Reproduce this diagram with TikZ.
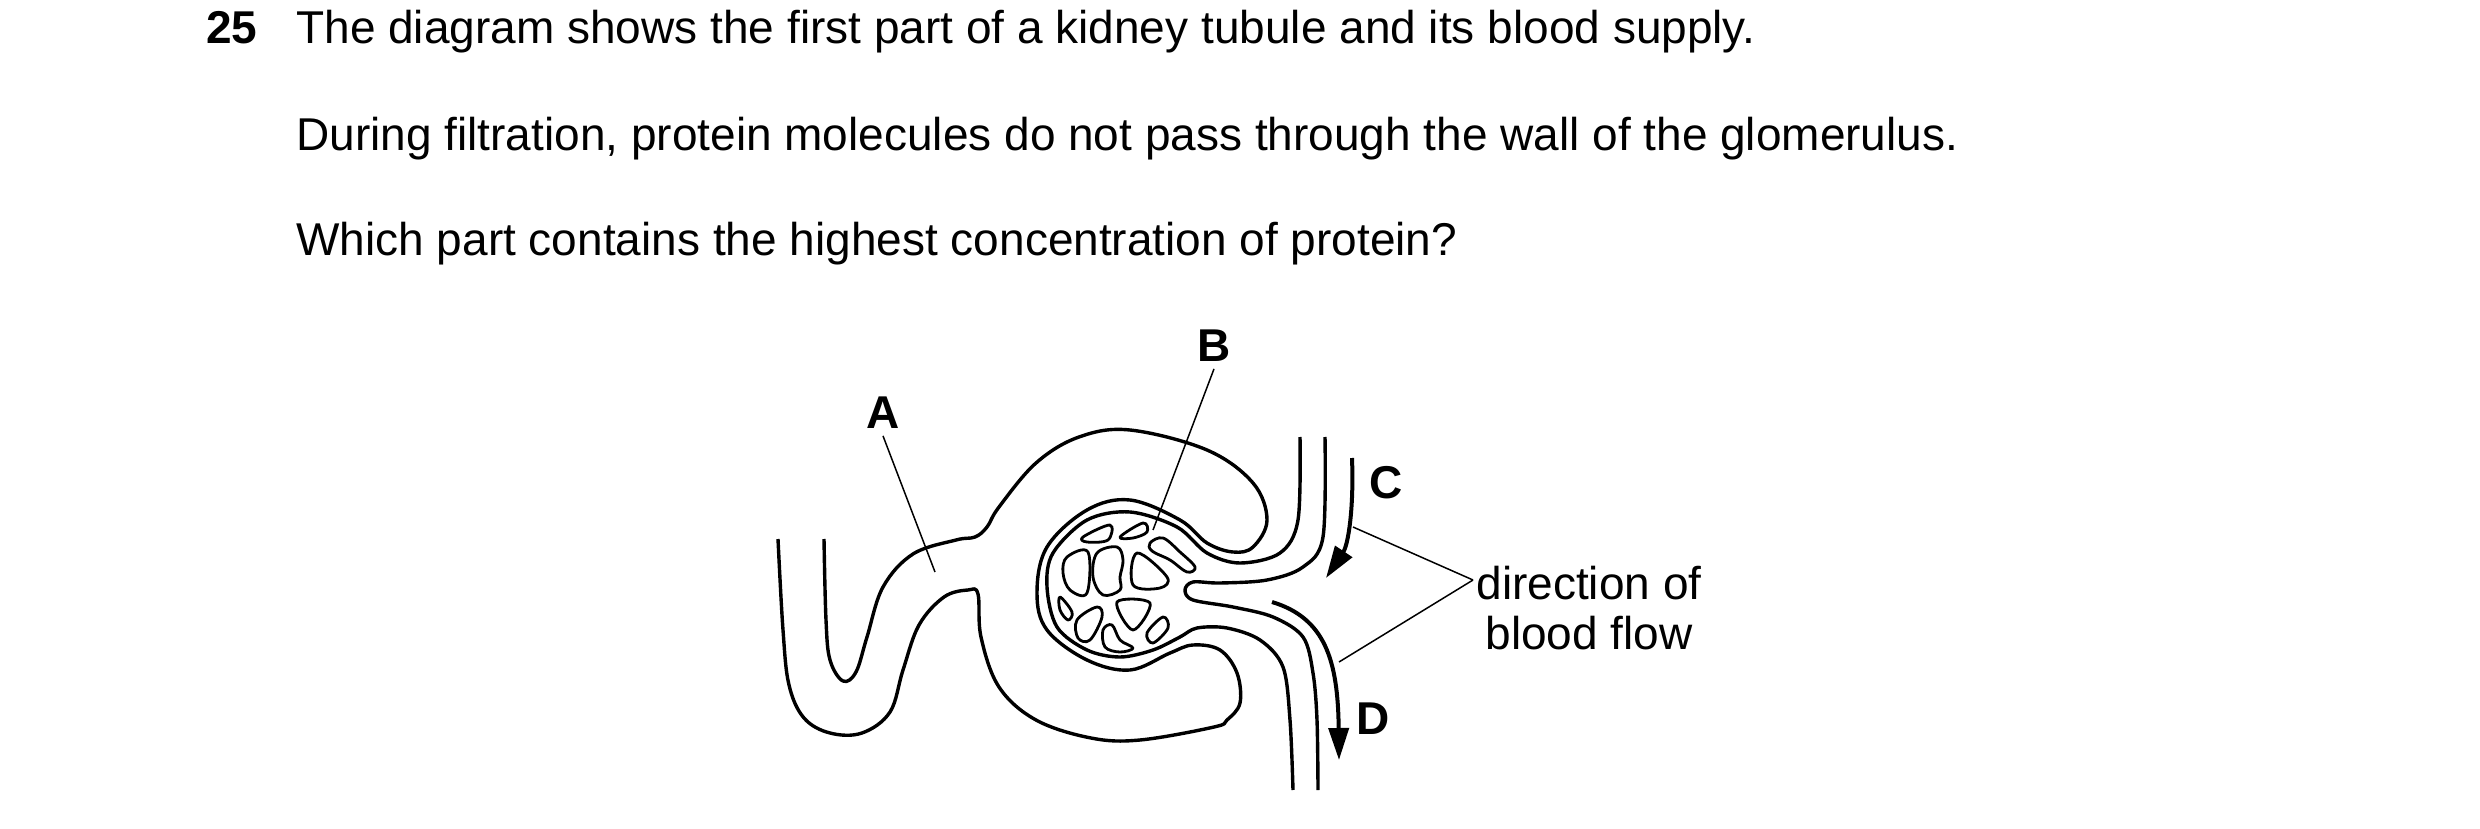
\documentclass[tikz,border=0pt]{standalone}
\usepackage{fontspec}
\setmainfont{Liberation Sans}
\usetikzlibrary{arrows.meta}
\begin{document}
\begin{tikzpicture}[x=0.5pt,y=-0.5pt,
  wall/.style={line width=1.7pt,line join=round},
  ptr/.style={line width=0.75pt},
  flow/.style={line width=2pt,-{Triangle[length=16pt,width=10pt]}},
  lab/.style={font=\fontsize{23}{27}\selectfont\bfseries},
  txt/.style={font=\fontsize{23}{27}\selectfont,anchor=base west,inner sep=0}]
\useasboundingbox (0,0) rectangle (2480,829);
% question text
\node[txt,font=\fontsize{23}{27}\selectfont\bfseries] (num) at (206,44) {25};
\node[txt] (l1) at (296,44) {The diagram shows the first part of a kidney tubule and its blood supply.};
\node[txt] (l2) at (296,150) {During filtration, protein molecules do not pass through the wall of the glomerulus.};
\node[txt] (l3) at (296,256) {Which part contains the highest concentration of protein?};
% tubule + capsule outer wall
\draw[wall] plot[smooth,tension=0.6] coordinates {(824,539) (826,620) (830,660) (843,681) (856,672) (867,637) (883,587) (913,554) (956,540) (975,537) (987,527) (999,507) (1036,463) (1079,437) (1130,430) (1207,450) (1253,483) (1267,520) (1253,547) (1233,552) (1207,543) (1180,520) (1130,500) (1087,510) (1047,547) (1037,593) (1047,630) (1087,660) (1130,670) (1170,653) (1193,645) (1220,650) (1237,673) (1240,703) (1227,720) (1214,727) (1140,740) (1091,738) (1036,720) (999,687) (981,637) (978,594) (968,590) (944,597) (919,625) (903,670) (890,712) (862,733) (830,733) (804,718) (789,685) (783,630) (778,539)};
% afferent wall 1 -> capsule inner -> efferent wall 1
\draw[wall] plot[smooth,tension=0.55] coordinates {(1300,437) (1298,520) (1280,553) (1240,563) (1207,553) (1177,527) (1130,512) (1087,520) (1053,553) (1047,587) (1057,627) (1087,650) (1120,657) (1153,650) (1180,637) (1197,628) (1227,628) (1260,640) (1283,667) (1290,720) (1293,790)};
% afferent wall 2 -> efferent wall 2
\draw[wall] plot[smooth,tension=0.55] coordinates {(1325,437) (1323,537) (1303,567) (1267,580) (1220,583) (1193,582) (1185,590) (1193,600) (1233,607) (1273,617) (1303,637) (1313,673) (1317,720) (1318,790)};
% capillaries
\foreach \b in {
 {(1083,537) (1110,525) (1108,540) (1087,542)},
 {(1120,537) (1143,523) (1147,532) (1133,538)},
 {(1150,543) (1163,538) (1180,552) (1195,567) (1187,572) (1170,560) (1152,551)},
 {(1067,557) (1088,552) (1087,593) (1070,590) (1063,573)},
 {(1097,553) (1117,547) (1123,560) (1120,577) (1120,590) (1103,595) (1093,577)},
 {(1137,553) (1167,577) (1160,588) (1133,585)},
 {(1060,597) (1072,612) (1068,620) (1060,610)},
 {(1077,620) (1097,607) (1102,617) (1090,640) (1078,638)},
 {(1117,602) (1150,603) (1133,630)},
 {(1103,630) (1112,625) (1120,640) (1133,648) (1120,652) (1105,647)},
 {(1147,633) (1163,617) (1168,628) (1153,643)}}
 \draw[wall,line width=1.4pt] plot[smooth cycle,tension=0.6] coordinates \b;
% flow arrows
\coordinate (c0) at (1352,458);
\coordinate (c1) at (1326,578);
\draw[flow] (c0) .. controls (1354,510) and (1348,545) .. (c1);
\coordinate (d0) at (1272,602);
\coordinate (d1) at (1339,760);
\draw[flow] (d0) .. controls (1325,618) and (1338,660) .. (d1);
% labels
\node[lab] (A) at (883,413) {A};
\node[lab] (B) at (1214,346) {B};
\node[lab] (C) at (1386,483) {C};
\node[lab] (D) at (1373,719) {D};
\node[font=\fontsize{23}{27}\selectfont,align=center,inner sep=0] (dir) at (1589,608) {direction of\\[-2pt]blood flow};
\coordinate (pa) at (935,572);
\coordinate (pb) at (1153,530);
\coordinate (pc) at (1353,527);
\coordinate (pd) at (1339,662);
\coordinate (dl) at (1473,580);
\draw[ptr] (A.south) -- (pa);
\draw[ptr] (B.south) -- (pb);
\draw[ptr] (dl) -- (pc);
\draw[ptr] (dl) -- (pd);
\end{tikzpicture}
\end{document}
